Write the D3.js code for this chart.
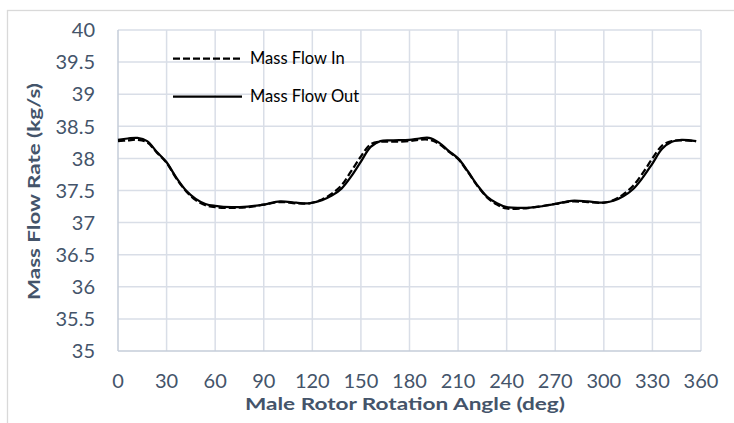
<!DOCTYPE html>
<html>
<head>
<meta charset="utf-8">
<script src="https://cdn.jsdelivr.net/npm/d3@7"></script>
<style>
  body { margin: 0; background: #fff; }
  svg { display: block; font-family: Lato, "Open Sans", sans-serif; }
</style>
</head>
<body>
<div id="chart"></div>
<script>
// rotation angle (deg)
const angles = [0, 6, 12, 18, 24, 30, 36, 42, 48, 54, 60, 70, 80, 90, 100, 110, 118, 126, 132, 138, 144, 150, 156, 162, 170, 180, 186, 192, 198, 204, 210, 216, 222, 228, 234, 240, 250, 260, 270, 280, 290, 300, 306, 312, 318, 324, 330, 336, 342, 348, 357]

const massIn = [38.27, 38.28, 38.29, 38.25, 38.09, 37.93, 37.69, 37.49, 37.35, 37.27, 37.24, 37.23, 37.24, 37.28, 37.32, 37.30, 37.30, 37.36, 37.45, 37.58, 37.80, 38.03, 38.22, 38.26, 38.26, 38.27, 38.29, 38.29, 38.23, 38.11, 37.99, 37.79, 37.57, 37.39, 37.28, 37.22, 37.22, 37.25, 37.29, 37.33, 37.32, 37.31, 37.35, 37.44, 37.57, 37.77, 38.00, 38.20, 38.27, 38.28, 38.27]

const massOut = [38.29, 38.31, 38.32, 38.27, 38.10, 37.94, 37.70, 37.50, 37.37, 37.29, 37.26, 37.24, 37.25, 37.28, 37.33, 37.31, 37.30, 37.35, 37.42, 37.53, 37.72, 37.95, 38.18, 38.27, 38.28, 38.29, 38.31, 38.32, 38.25, 38.12, 38.00, 37.80, 37.58, 37.40, 37.30, 37.24, 37.23, 37.25, 37.29, 37.34, 37.33, 37.31, 37.34, 37.41, 37.52, 37.70, 37.92, 38.15, 38.26, 38.29, 38.27]

const xTicks = [0, 30, 60, 90, 120, 150, 180, 210, 240, 270, 300, 330, 360]
const yTicks = [35, 35.5, 36, 36.5, 37, 37.5, 38, 38.5, 39, 39.5, 40]

const series = [
    { label: 'Mass Flow In', values: massIn, dash: '7,3' },
    { label: 'Mass Flow Out', values: massOut, dash: null }
]

const width = 734, height = 423
const textColor = '#44546a', gridColor = '#d9dee7'

const svg = d3.select('#chart').append('svg')
    .attr('width', width)
    .attr('height', height)

// chart frame
svg.append('rect')
    .attr('x', 7.5).attr('y', 10.5)
    .attr('width', width + 10).attr('height', height + 10)
    .attr('fill', 'none')
    .attr('stroke', '#d9d9d9')
    .attr('stroke-width', 1.3)

const x = d3.scaleLinear().domain([0, 360]).range([118, 701])
const y = d3.scaleLinear().domain([35, 40]).range([351, 30])

// gridlines
svg.append('g').selectAll('line')
    .data(yTicks.slice(1))
    .enter().append('line')
    .attr('x1', x(0)).attr('x2', x(360))
    .attr('y1', d => y(d)).attr('y2', d => y(d))
    .attr('stroke', gridColor).attr('stroke-width', 1.5)

svg.append('g').selectAll('line')
    .data(xTicks.slice(1))
    .enter().append('line')
    .attr('x1', d => x(d)).attr('x2', d => x(d))
    .attr('y1', y(35)).attr('y2', y(40))
    .attr('stroke', gridColor).attr('stroke-width', 1.5)

// axis lines
svg.append('line')
    .attr('x1', x(0)).attr('x2', x(0))
    .attr('y1', y(35)).attr('y2', y(40))
    .attr('stroke', '#c5cdd9').attr('stroke-width', 1.5)
svg.append('line')
    .attr('x1', x(0)).attr('x2', x(360))
    .attr('y1', y(35)).attr('y2', y(35))
    .attr('stroke', '#c5cdd9').attr('stroke-width', 1.5)

// tick labels
svg.append('g').selectAll('text')
    .data(yTicks)
    .enter().append('text')
    .attr('x', 95)
    .attr('y', d => y(d))
    .attr('dy', '0.36em')
    .attr('text-anchor', 'end')
    .attr('fill', textColor)
    .style('font-size', '20px')
    .text(d => d)

svg.append('g').selectAll('text')
    .data(xTicks)
    .enter().append('text')
    .attr('x', d => x(d))
    .attr('y', 387.5)
    .attr('text-anchor', 'middle')
    .attr('fill', textColor)
    .style('font-size', '20px')
    .text(d => d)

// axis titles (stretched to the reference width, Calibri is not installed)
svg.append('text')
    .attr('x', 245).attr('y', 409.5)
    .attr('textLength', 320)
    .attr('lengthAdjust', 'spacingAndGlyphs')
    .attr('fill', textColor)
    .style('font-size', '17px').style('font-weight', 'bold')
    .text('Male Rotor Rotation Angle (deg)')

svg.append('text')
    .attr('transform', 'translate(40,300) rotate(-90)')
    .attr('textLength', 217)
    .attr('lengthAdjust', 'spacingAndGlyphs')
    .attr('fill', textColor)
    .style('font-size', '17.5px').style('font-weight', 'bold')
    .text('Mass Flow Rate (kg/s)')

// lines
const line = d3.line()
    .x((d, i) => x(angles[i]))
    .y(d => y(d))
    .curve(d3.curveCatmullRom.alpha(0.5))

svg.append('g').selectAll('path')
    .data(series)
    .enter().append('path')
    .attr('d', d => line(d.values))
    .attr('fill', 'none')
    .attr('stroke', '#000')
    .attr('stroke-width', 2.25)
    .attr('stroke-dasharray', d => d.dash)

// legend
const legend = svg.append('g').selectAll('g')
    .data(series)
    .enter().append('g')
    .attr('transform', (d, i) => `translate(173,${58.5 + i * 38})`)

legend.append('line')
    .attr('x1', 0).attr('x2', 69)
    .attr('stroke', '#000')
    .attr('stroke-width', 2.25)
    .attr('stroke-dasharray', d => d.dash)

legend.append('text')
    .attr('x', 77)
    .attr('dy', '0.36em')
    .attr('fill', '#000')
    .style('font-size', '16.5px')
    .text(d => d.label)
</script>
</body>
</html>
